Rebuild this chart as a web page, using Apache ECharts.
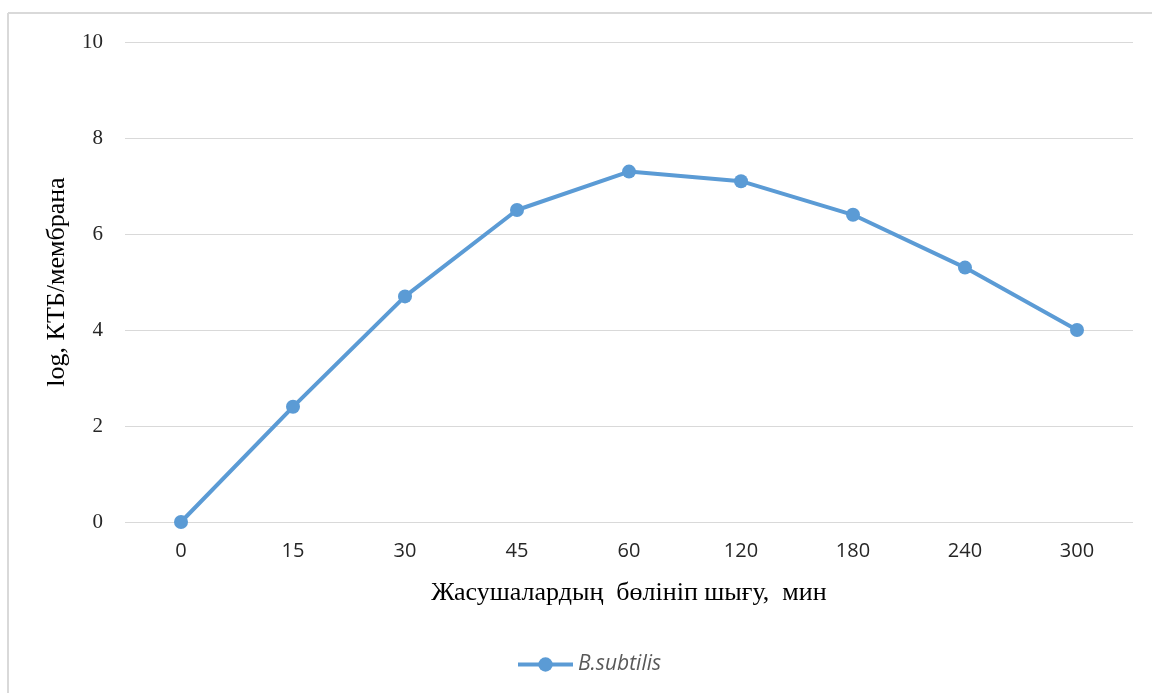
<!DOCTYPE html>
<html>
<head>
<meta charset="utf-8">
<script src="https://cdn.jsdelivr.net/npm/echarts@6/dist/echarts.min.js"></script>
<style>
  html, body { margin: 0; padding: 0; background: #fff; }
  #chart { width: 1152px; height: 693px; }
</style>
</head>
<body>
<div id="chart"></div>
<script>
// Time since division start, minutes
const categories = ['0', '15', '30', '45', '60', '120', '180', '240', '300'];
// log CFU per membrane, B. subtilis
const bSubtilis = [0, 2.4, 4.7, 6.5, 7.3, 7.1, 6.4, 5.3, 4.0];
const seriesName = 'B.subtilis';
const xTitle = 'Жасушалардың  бөлініп шығу,  мин';
const yTitle = 'log, КТБ/мембрана';

const chart = echarts.init(document.getElementById('chart'), null, { renderer: 'canvas' });

chart.setOption({
  animation: false,
  backgroundColor: '#fff',
  graphic: [
    // frame edges along the top and left
    { type: 'line', shape: { x1: 8, y1: 13, x2: 1152, y2: 13 }, style: { stroke: '#d9d9d9', lineWidth: 2 } },
    { type: 'line', shape: { x1: 8, y1: 13, x2: 8, y2: 693 }, style: { stroke: '#d9d9d9', lineWidth: 2 } }
  ],
  grid: { left: 125, right: 19, top: 42, bottom: 171 },
  legend: {
    data: [seriesName],
    left: 511,
    top: 649,
    itemWidth: 55,
    itemHeight: 18,
    itemGap: 6,
    lineStyle: { width: 4 },
    textStyle: { fontFamily: 'Open Sans', fontStyle: 'italic', fontSize: 21, color: '#595959' }
  },
  xAxis: {
    type: 'category',
    data: categories,
    boundaryGap: true,
    name: xTitle,
    nameLocation: 'middle',
    nameGap: 58,
    nameTextStyle: { fontFamily: 'Liberation Serif', fontSize: 26, color: '#000' },
    axisLine: { show: false },
    axisTick: { show: false },
    axisLabel: { fontFamily: 'Open Sans', fontSize: 20, color: '#262626', margin: 19 }
  },
  yAxis: {
    type: 'value',
    min: 0,
    max: 10,
    interval: 2,
    name: yTitle,
    nameLocation: 'middle',
    nameGap: 55,
    nameTextStyle: { fontFamily: 'Liberation Serif', fontSize: 26, color: '#000' },
    axisLine: { show: false },
    axisTick: { show: false },
    axisLabel: { fontFamily: 'Liberation Serif', fontSize: 21, color: '#262626', margin: 22 },
    splitLine: { lineStyle: { color: '#d9d9d9', width: 1 } }
  },
  series: [{
    name: seriesName,
    type: 'line',
    data: bSubtilis,
    symbol: 'circle',
    symbolSize: 14,
    lineStyle: { color: '#5b9bd5', width: 4 },
    itemStyle: { color: '#5b9bd5' }
  }]
});
</script>
</body>
</html>
